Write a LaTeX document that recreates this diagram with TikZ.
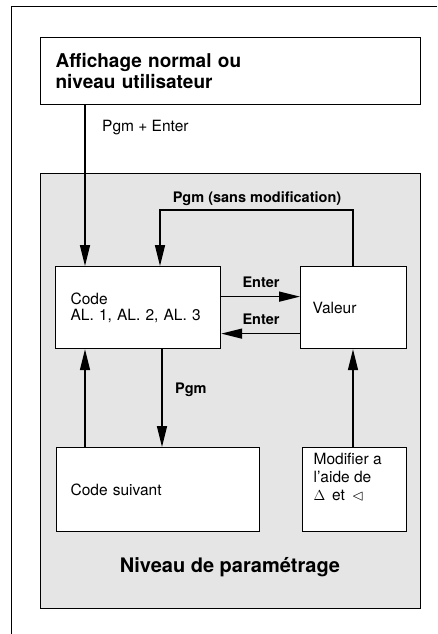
\documentclass[tikz,border=0pt]{standalone}
\usepackage{amssymb}
\usepackage{fontspec}
\setmainfont{TeX Gyre Heros}
\usetikzlibrary{arrows.meta}
\begin{document}
\begin{tikzpicture}[x=1pt,y=-1pt,
  box/.style={draw, line width=1.2pt, fill=white, inner ysep=0pt, align=left,
    font=\fontsize{15.5}{16.5}\selectfont},
  arr/.style={line width=1.5pt, -{Triangle[length=21pt,width=10pt]}},
  reg/.style={font=\fontsize{15.5}{16.5}\selectfont, align=left, inner sep=0pt},
  lbl/.style={font=\bfseries\fontsize{14.5}{16}\selectfont, inner sep=0pt},
]
\useasboundingbox (0,0) rectangle (437,634);
% outer frame
\draw[line width=0.9pt] (437,6) -- (11,6) -- (11,634);
% panel
\node[draw, line width=1.2pt, fill=gray!20, minimum width=380pt, minimum height=435pt,
  anchor=north west, inner sep=0pt] (panel) at (40,173) {};
% top box
\node[box, minimum width=380pt, minimum height=67pt, text width=350pt, inner xsep=15pt,
  anchor=north west, font=\bfseries\fontsize{19}{21}\selectfont] (top) at (40,37)
  {Affichage normal ou\\niveau utilisateur};
% boxes
\node[box, minimum width=165pt, minimum height=82pt, text width=135pt, inner xsep=15pt,
  anchor=north west] (code) at (55,266) {Code\\AL. 1, AL. 2, AL. 3};
\node[box, minimum width=106pt, minimum height=82pt, text width=82pt, inner xsep=12pt,
  anchor=north west] (val) at (300,266) {Valeur};
\node[box, minimum width=203pt, minimum height=84pt, text width=175pt, inner xsep=14pt,
  anchor=north west] (cs) at (56,447) {Code suivant};
\node[box, minimum width=104pt, minimum height=84pt, inner xsep=11pt, inner ysep=6pt,
  anchor=north west] (modif) at (302,447)
  {\parbox[c][72pt][t]{82pt}{\fontsize{15.5}{18}\selectfont Modifier a\\l'aide de\\$\Delta$\, et \,$\lhd$}};
% arrows
\draw[arr] ([xshift=45pt]top.south west) -- ([xshift=30pt]code.north west);
\node[reg, anchor=base west] (pe) at (102,131) {Pgm + Enter};
\coordinate (lp) at (257,210);
\draw[arr] ([xshift=53pt]val.north west) |- (lp) -| ([xshift=105pt]code.north west);
\node[lbl, anchor=base] (pgmsm) at (257,202) {Pgm (sans modification)};
\draw[arr] ([yshift=11pt]code.east) -- ([yshift=11pt]val.west);
\draw[arr] ([yshift=-26pt]val.west) -- ([yshift=-26pt]code.east);
\node[lbl, anchor=base] (e1) at (261,287) {Enter};
\node[lbl, anchor=base] (e2) at (261,324) {Enter};
\draw[arr] ([xshift=29pt]cs.north west) -- ([xshift=30pt]code.south west);
\draw[arr] ([xshift=107pt]code.south west) -- ([xshift=106pt]cs.north west);
\node[lbl, anchor=base west] (pgm) at (175,393) {Pgm};
\draw[arr] ([xshift=51pt]modif.north west) -- ([xshift=53pt]val.south west);
\node[font=\bfseries\fontsize{20}{22}\selectfont, inner sep=0pt, anchor=base] (niv) at (230,572) {Niveau de paramétrage};
\end{tikzpicture}
\end{document}
